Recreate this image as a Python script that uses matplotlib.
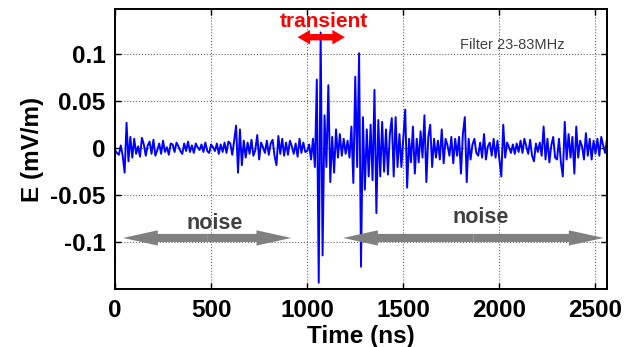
import matplotlib
matplotlib.use("Agg")
import matplotlib.pyplot as plt
from matplotlib.patches import FancyArrowPatch
import numpy as np

plt.rcParams['font.family'] = ['Liberation Sans', 'DejaVu Sans']
plt.rcParams['axes.unicode_minus'] = False

# E-field trace in units of 1e-3 mV/m, one sample every 10 ns
sample_step = 10
e_field_milli = [
    -2, -5, -7, 3, -8, -26, 27, -14, 12, -10,
    10, -6, 2, -9, 11, 4, -8, 3, 7, -6,
    9, -8, -2, 5, -6, 8, -4, 1, -7, 5,
    4, -4, 6, 2, -3, -6, 5, -3, 7, -4,
    3, -5, 5, 1, -2, 4, -4, 6, -3, -5,
    4, 1, -3, 5, -6, 4, -4, 6, -5, 7,
    5, -7, 8, 24, -26, 20, -18, 8, -10, 6,
    -6, 9, -8, -2, 14, -12, 6, 1, -5, 8,
    -7, 5, 9, -8, -18, 13, -6, 10, -8, 6,
    -7, 8, 2, -6, 5, -9, 10, -5, 6, -4,
    -3, 4, -12, 10, -20, 73, -143, 123, -114, 35,
    -20, 67, -36, 12, -26, 20, -10, 15, -8, 10,
    -6, 8, -10, 23, -37, 76, -20, 101, -126, 33,
    -44, 20, -30, 25, -34, 62, -69, 30, -30, 28,
    -25, 20, -28, 15, 32, -30, 33, -20, 15, -20,
    10, 41, -42, 10, -15, 23, -27, 10, -15, 18,
    -10, 35, -36, 12, 25, -20, 10, -10, 8, -12,
    20, -16, 10, 3, -8, 12, -16, 10, -8, 12,
    -27, 15, 33, -36, 10, -12, 4, 10, -5, -8,
    6, -10, 15, -12, 2, 6, -8, 10, -10, 8,
    -12, -30, 25, -10, 6, 1, -5, 4, -6, 5,
    -4, 8, -5, 10, 2, -6, 9, -8, -14, 5,
    -4, 6, -8, 23, -12, 10, -15, 3, 12, -10,
    -12, 10, -15, -30, 28, -12, 15, -10, 12, -27,
    23, -10, 8, 2, -12, 16, -8, 10, -12, 8,
    -6, 10, -8, 12, 3, -5, 10,
]
e_field = np.array(e_field_milli) / 1000.0
time = np.arange(len(e_field)) * sample_step

x_ticks = [0, 500, 1000, 1500, 2000, 2500]
y_ticks = [0.1, 0.05, 0, -0.05, -0.1]
y_tick_labels = ['0.1', '0.05', '0', '-0.05', '-0.1']

fig = plt.figure(figsize=(6.24, 3.47), dpi=100)
ax = fig.add_axes([0.1843, 0.1671, 0.7885, 0.807])

ax.plot(time, e_field, color='#0000ff', lw=1.4)

ax.set_xlim(0, 2560)
ax.set_ylim(-0.1497, 0.148)
ax.set_xticks(x_ticks)
ax.set_yticks(y_ticks)
ax.set_yticklabels(y_tick_labels)
ax.grid(True, linestyle=':', color='#666666', lw=0.8)
ax.tick_params(direction='in', top=True, right=True, length=4, width=1,
               labelsize=17.5, pad=7)
for lab in ax.get_xticklabels() + ax.get_yticklabels():
    lab.set_fontweight('bold')
for sp in ax.spines.values():
    sp.set_linewidth(1.4)

ax.set_xlabel('Time (ns)', fontsize=17.5, fontweight='bold', labelpad=2)
ax.set_ylabel('E (mV/m)', fontsize=17.5, fontweight='bold', labelpad=4)

# annotations
def double_arrow(x0, x1, y, color, hl, hw, tw):
    mid = (x0 + x1) / 2
    for end in (x0, x1):
        arr = FancyArrowPatch((mid, y), (end, y),
                              arrowstyle=f'simple,head_length={hl},head_width={hw},tail_width={tw}',
                              mutation_scale=1, shrinkA=0, shrinkB=0,
                              color=color, lw=0, zorder=4)
        ax.add_patch(arr)

double_arrow(950, 1196, 0.118, '#ff0000', 9, 10.5, 4.6)
ax.text(1089, 0.1347, 'transient', color='#ff0000', fontsize=15,
        fontweight='bold', ha='center', va='center')

double_arrow(42, 917, -0.0954, '#808080', 25, 11, 5.8)
double_arrow(1187, 2542, -0.0954, '#808080', 25, 11, 5.8)
ax.text(521, -0.0797, 'noise', color='#404040', fontsize=15.5,
        fontweight='bold', ha='center', va='center')
ax.text(1901, -0.074, 'noise', color='#404040', fontsize=15.5,
        fontweight='bold', ha='center', va='center')

ax.text(1797, 0.1095, 'Filter 23-83MHz', color='#404040', fontsize=10.5,
        ha='left', va='center')

fig.savefig('out.png', dpi=100)
